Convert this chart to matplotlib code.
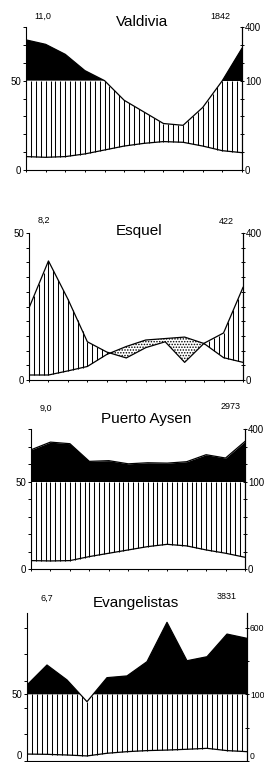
import numpy as np
import matplotlib.pyplot as plt

plt.rcParams['font.family'] = ['Liberation Sans', 'DejaVu Sans']
plt.rcParams['hatch.linewidth'] = 0.7

W, H = 264, 762

months = np.arange(12)

stations = ["Valdivia", "Esquel", "Puerto Aysen", "Evangelistas"]
mean_temp = ["11,0", "8,2", "9,0", "6,7"]
annual_prec = ["1842", "422", "2973", "3831"]
right_top_label = ["400", "400", "400", "600"]

# monthly values, July ... June (deg C, mm)
valdivia_temp = [7.5, 7.1, 7.5, 9.0, 11.2, 13.4, 14.9, 15.9, 15.5, 13.4, 10.8, 9.7]
valdivia_prec = [328, 303, 247, 156, 100, 78, 65, 52, 50, 70, 100, 281]
esquel_temp = [1.7, 1.7, 3.1, 4.6, 8.7, 11.4, 13.6, 14.1, 14.6, 12.4, 7.6, 6.0]
esquel_prec = [49, 81, 55, 26, 19, 15, 22, 26, 12, 25, 32, 63]
aysen_temp = [4.8, 4.6, 4.8, 7.1, 9.0, 10.9, 12.8, 14.1, 13.2, 10.9, 9.0, 6.7]
aysen_prec = [281, 325, 316, 215, 219, 201, 207, 205, 213, 253, 234, 329]
evang_temp = [5.2, 5.0, 4.5, 3.8, 5.8, 7.0, 7.8, 8.2, 8.8, 9.5, 7.8, 7.0]
evang_prec = [170, 320, 208, 89, 225, 238, 345, 640, 352, 382, 552, 520]

temps = [valdivia_temp, esquel_temp, aysen_temp, evang_temp]
precs = [valdivia_prec, esquel_prec, aysen_prec, evang_prec]

left_ticks = [list(range(0, 81, 10)), list(range(0, 51, 5)),
              list(range(0, 81, 10)), [0, 20, 40, 50, 60, 80, 100]]
right_ticks = [list(range(0, 81, 10)), list(range(0, 51, 5)),
               list(range(0, 81, 10)), [0, 25, 50, 75, 100]]

# layout in pixels: left, right, top, bottom, y max
boxes = [(26, 242, 27, 170, 80), (29, 243, 233, 380, 50),
         (31, 245, 429, 569, 80), (27, 247, 613, 761, 111)]
title_pos = [(142, 25.7), (139, 234.5), (146, 423.3), (136, 607.3)]
mean_pos = [(42.5, 19), (44, 223.3), (46, 410.7), (47, 601)]
total_pos = [(220, 19), (226, 224.3), (231, 409.3), (227, 599.3)]


def prec_scale(p):
    # Walter-Lieth: 2 mm per degree up to 100 mm, 1/10 above
    p = np.asarray(p, dtype=float)
    return np.where(p <= 100, p / 2, 50 + (p - 100) / 10)


fig = plt.figure(figsize=(W / 100, H / 100), dpi=100)

for i in range(4):
    l, r, t, b, ymax = boxes[i]
    ax = fig.add_axes([l / W, 1 - b / H, (r - l) / W, (b - t) / H])
    temp = np.array(temps[i])
    pe = prec_scale(precs[i])

    # humid months: vertical hatching
    xs = np.arange(0, 11.001, 0.25)
    ti = np.interp(xs, months, temp)
    pi = np.minimum(np.interp(xs, months, pe), 50)
    wet = pi > ti
    ax.vlines(xs[wet], ti[wet], pi[wet], color='black', lw=0.75)

    # very wet: black above 100 mm
    ax.fill_between(months, 50, pe, where=pe > 50, interpolate=True,
                    color='black', lw=0)
    # arid months: dotted
    ax.fill_between(months, pe, temp, where=temp > pe, interpolate=True,
                    facecolor='none', edgecolor='black', hatch='......', lw=0)

    ax.plot(months, pe, color='black', lw=0.9)
    ax.plot(months, temp, color='black', lw=0.9)

    ax.set_xlim(0, 11)
    ax.set_ylim(0, ymax)
    ax.spines['top'].set_visible(False)
    for s in ['left', 'bottom', 'right']:
        ax.spines[s].set_linewidth(0.8)
    ax.set_xticks(months)
    ax.set_xticklabels([])
    ax.tick_params(axis='x', direction='out', length=1.7, width=0.7)

    ax.set_yticks(left_ticks[i])
    ax.set_yticklabels(["0" if v == 0 else ("50" if v == 50 else "")
                        for v in left_ticks[i]])
    ax.tick_params(axis='y', direction='out', length=1.9, width=0.7,
                   pad=1.4, labelsize=7)

    ax2 = ax.twinx()
    ax2.set_ylim(0, ymax)
    for s in ['left', 'bottom', 'top']:
        ax2.spines[s].set_visible(False)
    ax2.spines['right'].set_linewidth(0.8)
    rt = right_ticks[i]
    labs = []
    for v in rt:
        if v == 0:
            labs.append("0")
        elif v == rt[-1]:
            labs.append(right_top_label[i])
        elif v == 50:
            labs.append("100")
        else:
            labs.append("")
    ax2.set_yticks(rt)
    ax2.set_yticklabels(labs)
    ax2.tick_params(axis='y', direction='inout', length=3.4, width=0.7,
                    pad=0.4, labelsize=7 if i < 3 else 6.2)

    # last panel sits on the bottom edge: lift the zero labels
    if i == 3:
        ax.get_yticklabels()[0].set_va('bottom')
        ax2.get_yticklabels()[0].set_va('bottom')

    fig.text(title_pos[i][0] / W, 1 - title_pos[i][1] / H, stations[i],
             ha='center', va='baseline', fontsize=11)
    fig.text(mean_pos[i][0] / W, 1 - mean_pos[i][1] / H, mean_temp[i],
             ha='center', va='baseline', fontsize=6.5)
    fig.text(total_pos[i][0] / W, 1 - total_pos[i][1] / H, annual_prec[i],
             ha='center', va='baseline', fontsize=6.5)

fig.savefig("out.png", dpi=100)
